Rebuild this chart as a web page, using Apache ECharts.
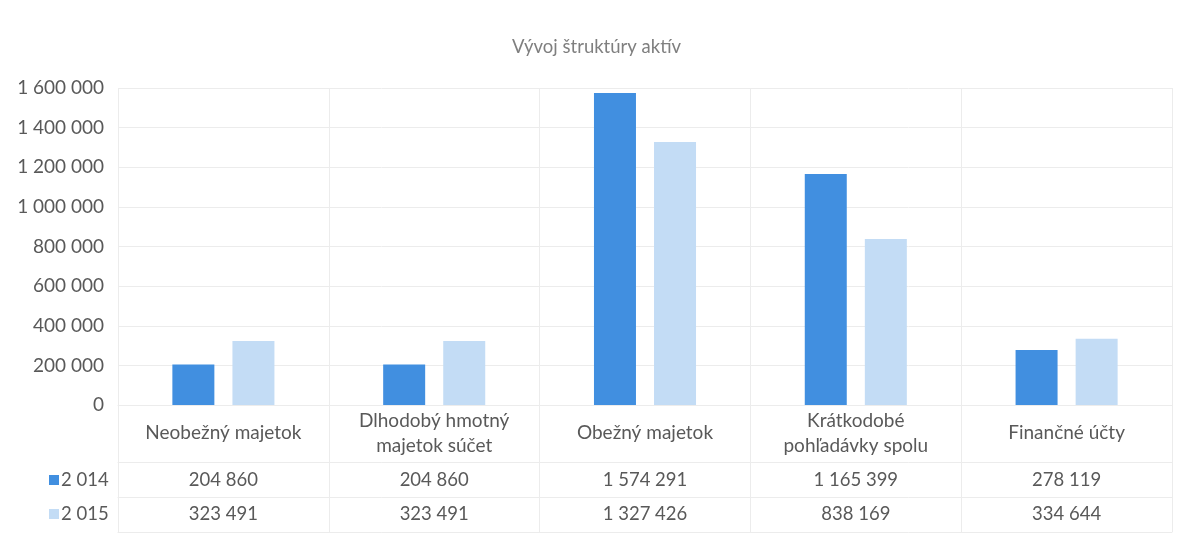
<!DOCTYPE html>
<html>
<head>
<meta charset="utf-8">
<script src="https://cdn.jsdelivr.net/npm/echarts@6/dist/echarts.min.js"></script>
<style>
    html, body {margin: 0; padding: 0; background: #fff;}
    #chart {width: 1193px; height: 537px;}
</style>
</head>
<body>
<div id="chart"></div>
<script>
// chart data
var categories = ['Neobežný majetok', 'Dlhodobý hmotný\nmajetok súčet', 'Obežný majetok', 'Krátkodobé\npohľadávky spolu', 'Finančné účty'];
var seriesNames = ['2 014', '2 015'];
var values2014 = [204860, 204860, 1574291, 1165399, 278119];
var values2015 = [323491, 323491, 1327426, 838169, 334644];
var yTicks = {min: 0, max: 1600000, interval: 200000};

var chart = echarts.init(document.getElementById('chart'));

var textColor = '#595959';
var lineColor = '#ececec';
var fontFamily = 'Lato, "Open Sans", sans-serif';

// 1234567 -> "1 234 567"
function spaced(v) {
    return String(v).replace(/\B(?=(\d{3})+(?!\d))/g, ' ');
}

var option = {
    textStyle: {fontFamily: fontFamily},
    title: {
        text: 'Vývoj štruktúry aktív',
        left: 'center',
        top: 33,
        textStyle: {color: '#7f7f7f', fontSize: 18.5, fontWeight: 'normal', fontFamily: fontFamily}
    },
    legend: {
        orient: 'vertical',
        left: 44,
        top: 465,
        itemWidth: 10,
        itemHeight: 10,
        itemGap: 14,
        icon: 'rect',
        data: seriesNames,
        textStyle: {color: textColor, fontSize: 18.5, lineHeight: 20, padding: [0, 0, 0, -3]}
    },
    grid: {left: 118, right: 21, top: 88, bottom: 132, containLabel: false},
    xAxis: [
        {
            type: 'category',
            data: categories,
            axisLine: {lineStyle: {color: lineColor}},
            axisTick: {show: true, length: 127, inside: false, lineStyle: {color: lineColor}},
            splitLine: {show: true, lineStyle: {color: lineColor}},
            axisLabel: {color: textColor, fontSize: 19, lineHeight: 25, margin: 28, verticalAlign: 'middle', interval: 0}
        },
        {
            type: 'category',
            position: 'bottom',
            offset: 57,
            data: values2014.map(spaced),
            axisLine: {lineStyle: {color: lineColor}},
            axisTick: {show: false},
            axisLabel: {color: textColor, fontSize: 18.5, margin: 18, verticalAlign: 'middle', interval: 0}
        },
        {
            type: 'category',
            position: 'bottom',
            offset: 92,
            data: values2015.map(spaced),
            axisLine: {lineStyle: {color: lineColor}},
            axisTick: {show: false},
            axisLabel: {color: textColor, fontSize: 18.5, margin: 17, verticalAlign: 'middle', interval: 0}
        },
        {
            type: 'category',
            position: 'bottom',
            offset: 127,
            data: categories,
            axisLine: {lineStyle: {color: lineColor}},
            axisTick: {show: false},
            axisLabel: {show: false}
        }
    ],
    yAxis: {
        type: 'value',
        min: yTicks.min,
        max: yTicks.max,
        interval: yTicks.interval,
        axisLine: {show: false},
        axisTick: {show: false},
        splitLine: {lineStyle: {color: lineColor}},
        axisLabel: {color: textColor, fontSize: 19, margin: 14, formatter: spaced}
    },
    series: [
        {
            name: seriesNames[0],
            type: 'bar',
            xAxisIndex: 0,
            data: values2014,
            barWidth: 42,
            barGap: '43%',
            itemStyle: {color: '#418fe0'}
        },
        {
            name: seriesNames[1],
            type: 'bar',
            xAxisIndex: 0,
            data: values2015,
            barWidth: 42,
            barGap: '43%',
            itemStyle: {color: '#c3dcf5'}
        }
    ]
};
chart.setOption(option);
</script>
</body>
</html>
